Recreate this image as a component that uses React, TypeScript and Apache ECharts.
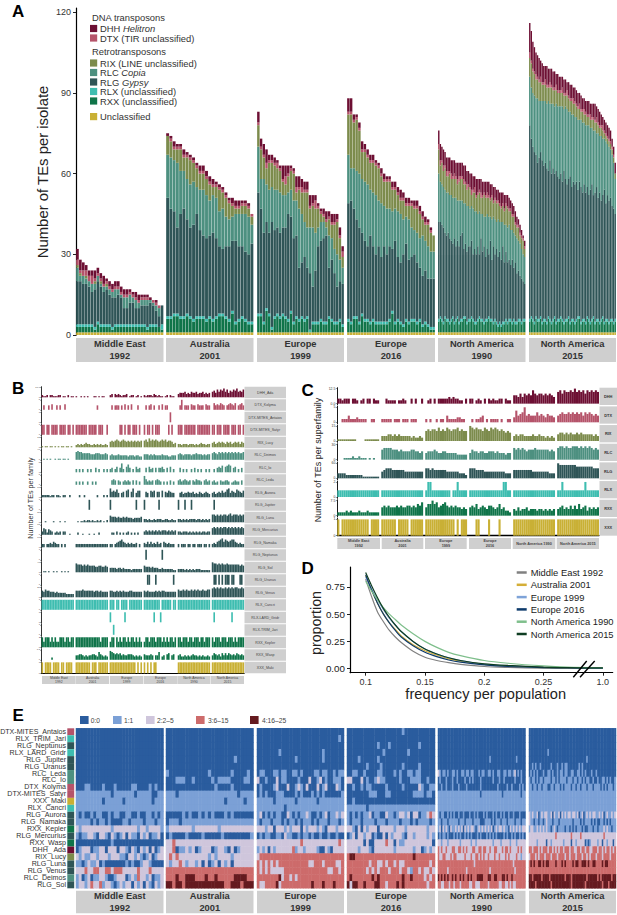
import React, { useEffect, useRef } from "react";
import * as echarts from "echarts";

const FONT = "'Liberation Sans', Arial, sans-serif";
const C_DHH = "#6d0f33", C_DTX = "#b5536a", C_RIX = "#7c8b4c", C_RLC = "#4d9080", C_RLG = "#2f5557", C_RLX = "#3ebdb0", C_RXX = "#0f7449", C_UNC = "#c9b035";
const STRIP = "#cfcfcf";

const FACET_NAMES = ["Middle East", "Australia", "Europe", "Europe", "North America", "North America"];
const FACET_YEARS = ["1992", "2001", "1999", "2016", "1990", "2015"];

// ---- Panel A: TEs per isolate, one array per superfamily and population
const ME_UNC = [1,1,1,1,1,1,1,1,1,1,1,1,1,1,1,1,1,1,1,1,1,1,1,1,1,1,1,1,1,1];
const ME_RXX = [2,2,2,2,2,2,1,3,2,2,2,2,1,2,2,2,2,2,2,2,2,2,2,2,1,2,2,2,2,1];
const ME_RLX = [1,1,1,1,1,1,1,1,1,1,1,1,1,1,1,1,1,1,1,1,1,1,1,1,1,1,1,1,0,2];
const ME_RLG = [16,16,15,15,14,12,14,15,14,12,13,11,11,10,11,10,6,6,8,8,6,6,7,7,8,8,7,5,4,7];
const ME_RLC = [5,2,3,2,2,3,2,2,1,2,1,2,2,3,2,1,4,4,3,2,3,2,2,2,2,1,1,2,3,0];
const ME_RIX = [1,1,0,1,0,0,1,0,1,0,1,0,0,0,0,0,0,0,0,0,0,0,0,0,0,0,0,0,0,0];
const ME_DTX = [2,1,2,2,2,3,1,1,1,1,1,1,1,1,1,1,1,1,1,1,1,1,1,1,1,0,1,1,1,0];
const ME_DHH = [4,4,3,2,2,2,3,2,2,3,1,2,2,2,2,2,2,2,1,1,2,2,1,1,1,1,0,1,0,0];

const AU_UNC = [1,1,1,1,1,1,1,1,1,1,1,1,1,1,1,1,1,1,1,1,1,1,1,1,1,1,1];
const AU_RXX = [5,5,6,6,5,5,6,5,4,5,5,5,4,5,4,5,6,6,5,4,7,3,4,5,4,3,3];
const AU_RLX = [1,1,1,1,1,1,1,1,1,1,1,1,1,1,1,1,1,1,1,1,1,1,1,1,1,1,1];
const AU_RLG = [44,40,38,32,38,40,35,33,35,38,32,30,30,30,32,29,25,24,26,27,26,30,27,26,25,25,29];
const AU_RLC = [16,19,19,24,16,14,15,16,16,10,15,17,16,13,14,15,13,15,11,10,9,10,12,12,14,14,7];
const AU_RIX = [7,6,4,5,8,5,8,9,7,7,6,6,6,6,3,4,8,6,7,6,4,2,2,3,3,3,3];
const AU_DTX = [0,1,1,1,1,1,1,1,1,1,1,1,1,1,1,1,1,1,1,1,1,1,1,1,1,1,1];
const AU_DHH = [1,1,2,1,1,2,1,1,1,1,2,2,2,2,2,1,1,1,1,1,2,2,2,1,1,1,0];

const E9_UNC = [1,1,1,1,1,1,1,1,1,1,1,1,1,1,1,1,1,1,1,1,1,1,1,1,1,1,1,1,1,1,1,1];
const E9_RXX = [6,6,3,8,6,1,5,6,5,6,5,4,7,3,5,4,5,4,5,0,3,3,3,4,3,3,5,4,3,3,4,2];
const E9_RLX = [1,1,1,1,1,1,1,1,1,1,1,1,1,1,1,1,1,1,1,1,1,1,1,1,1,1,1,1,1,1,1,1];
const E9_RLG = [45,39,33,32,30,39,32,32,31,32,33,39,35,31,30,19,20,23,18,21,13,19,28,29,31,32,18,22,18,13,14,15];
const E9_RLC = [17,11,20,14,16,13,15,14,15,12,12,8,10,14,13,22,18,13,15,17,22,14,7,7,6,3,12,8,9,12,8,6];
const E9_RIX = [8,11,8,6,10,9,9,8,8,5,4,6,7,10,3,7,8,11,13,7,8,9,7,3,2,2,6,5,9,12,8,4];
const E9_DTX = [1,1,1,2,1,1,1,2,1,1,3,1,1,1,2,1,2,1,1,1,1,3,1,1,1,1,1,1,1,1,1,2];
const E9_DHH = [4,3,4,5,2,2,2,1,1,5,4,3,1,1,4,4,3,3,3,4,3,2,1,1,2,3,2,3,3,2,3,2];

const E6_UNC = [1,1,1,1,1,1,1,1,1,1,1,1,1,1,1,1,1,1,1,1,1,1,1,1,1,1,1,1,1,1,1,1];
const E6_RXX = [4,3,5,5,3,6,4,4,3,4,3,3,3,3,3,4,7,3,4,3,2,4,3,4,4,3,4,2,3,2,1,1];
const E6_RLX = [1,1,1,1,1,1,1,1,1,1,1,1,1,1,1,1,1,1,1,1,1,1,1,1,1,1,1,1,1,1,1,1];
const E6_RLG = [43,45,40,36,35,30,29,27,32,27,25,28,24,28,25,27,23,30,23,22,26,28,23,23,24,22,19,18,19,17,18,18];
const E6_RLC = [18,12,15,18,20,20,22,23,17,20,22,17,20,15,17,14,14,12,17,18,13,10,15,11,9,11,11,15,11,12,10,10];
const E6_RIX = [15,20,17,19,16,10,11,10,10,11,11,12,10,9,10,10,8,7,6,5,7,4,5,8,8,9,9,6,6,8,7,6];
const E6_DTX = [1,1,1,1,1,1,1,1,1,1,1,1,1,1,1,1,1,1,1,1,1,1,1,1,1,1,1,1,1,1,1,0];
const E6_DHH = [5,5,2,1,2,3,2,2,2,2,1,1,2,2,1,1,2,2,2,3,2,2,2,1,2,2,2,2,2,1,1,0];

const N9_UNC = [1,1,1,1,1,1,1,1,1,1,1,1,1,1,1,1,1,1,1,1,1,1,1,1,1,1,1,1,1,1,1,1,1,1,1,1,1,1,1,1,1,1,1,1,1,1,1,1,1,1,1,1,1,1,1,1];
const N9_RXX = [4,5,4,3,5,4,4,3,4,5,3,4,5,3,4,4,5,5,3,4,4,5,4,3,3,4,5,4,4,3,4,4,5,4,4,3,4,3,2,3,2,3,3,4,3,4,4,3,4,3,3,4,4,3,4,4];
const N9_RLX = [1,1,1,1,1,1,1,1,1,1,1,1,1,1,1,1,1,1,1,1,1,1,1,1,1,1,1,1,1,1,1,1,1,1,1,1,1,1,1,1,1,1,1,1,1,1,1,1,1,1,1,1,1,1,1,1];
const N9_RLG = [36,35,35,35,31,31,32,31,29,27,31,27,28,28,31,32,25,27,26,27,27,28,24,27,25,27,23,30,25,28,23,26,23,29,22,28,24,27,25,26,24,28,22,25,22,22,20,23,19,22,18,18,16,16,14,13];
const N9_RLC = [18,15,15,15,16,16,15,16,17,17,15,18,15,17,13,12,17,15,17,15,14,13,17,14,16,12,16,9,14,11,15,13,14,9,15,11,13,10,14,11,14,9,14,10,13,13,13,11,13,10,13,11,12,11,10,10];
const N9_RIX = [9,6,8,6,8,6,6,8,6,7,7,7,6,7,8,8,7,7,6,7,7,4,6,7,5,7,7,6,6,8,7,6,7,6,8,5,7,7,6,6,5,6,5,7,7,5,7,5,6,4,4,5,3,4,5,3];
const N9_DTX = [2,2,1,2,1,2,2,1,2,1,2,1,2,2,1,1,2,1,2,1,1,2,1,2,1,1,1,2,1,1,1,2,1,1,1,1,1,1,1,1,1,1,1,1,1,1,1,1,1,1,1,1,1,1,1,1];
const N9_DHH = [5,6,5,6,5,5,5,5,5,6,5,5,6,5,5,5,5,6,5,5,5,6,5,4,6,5,4,5,5,4,5,4,5,5,4,5,4,4,4,4,5,4,5,3,4,4,3,4,3,4,3,2,3,2,1,2];

const N5_UNC = [1,1,1,1,1,1,1,1,1,1,1,1,1,1,1,1,1,1,1,1,1,1,1,1,1,1,1,1,1,1,1,1,1,1,1,1,1,1,1,1,1,1,1,1,1,1,1,1,1,1,1,1,1,1,1,1];
const N5_RXX = [4,5,4,3,5,4,4,5,3,4,4,3,5,4,3,4,5,3,4,4,5,4,3,4,4,5,3,4,4,3,4,5,5,3,4,4,3,5,4,3,4,5,3,4,4,3,4,5,3,4,4,3,4,4,3,4];
const N5_RLX = [1,1,1,1,1,1,1,1,1,1,1,1,1,1,1,1,1,1,1,1,1,1,1,1,1,1,1,1,1,1,1,1,1,1,1,1,1,1,1,1,1,1,1,1,1,1,1,1,1,1,1,1,1,1,1,1];
const N5_RLG = [72,66,64,63,60,58,60,61,60,57,58,57,54,59,55,56,53,56,53,52,53,51,56,52,50,51,54,49,51,51,51,47,50,50,47,50,48,48,46,49,50,45,48,49,45,48,44,45,49,43,46,45,45,42,42,39];
const N5_RLC = [18,19,20,21,21,24,21,19,22,24,23,24,26,21,26,24,25,25,26,27,25,28,23,27,28,25,24,27,25,25,24,26,23,25,26,23,25,23,26,23,21,24,23,20,24,21,24,21,19,23,19,20,18,19,17,13];
const N5_RIX = [7,9,8,8,7,7,7,7,6,6,6,6,5,6,6,5,6,5,5,5,5,5,5,4,5,5,4,5,4,5,4,4,4,3,4,3,4,3,3,3,3,4,3,4,3,3,3,3,2,2,2,2,2,2,2,2];
const N5_DTX = [2,1,1,1,2,1,1,2,1,1,2,1,1,2,1,1,1,2,1,1,1,2,1,1,2,1,1,1,2,1,1,1,2,1,1,2,1,1,1,2,1,1,1,2,1,1,1,2,1,1,1,1,1,1,1,0];
const N5_DHH = [11,11,10,9,8,8,8,6,7,6,5,7,6,5,6,6,6,4,6,5,5,4,5,5,3,5,5,5,4,5,5,5,4,5,4,4,4,5,5,4,5,5,6,4,5,5,4,3,4,4,4,4,4,3,3,4];

const A_LAYER_NAMES = ["Unclassified", "RXX", "RLX", "RLG", "RLC", "RIX", "DTX", "DHH"];
const A_LAYER_COLORS = [C_UNC, C_RXX, C_RLX, C_RLG, C_RLC, C_RIX, C_DTX, C_DHH];
const A_TABLE = [
  [ME_UNC, ME_RXX, ME_RLX, ME_RLG, ME_RLC, ME_RIX, ME_DTX, ME_DHH],
  [AU_UNC, AU_RXX, AU_RLX, AU_RLG, AU_RLC, AU_RIX, AU_DTX, AU_DHH],
  [E9_UNC, E9_RXX, E9_RLX, E9_RLG, E9_RLC, E9_RIX, E9_DTX, E9_DHH],
  [E6_UNC, E6_RXX, E6_RLX, E6_RLG, E6_RLC, E6_RIX, E6_DTX, E6_DHH],
  [N9_UNC, N9_RXX, N9_RLX, N9_RLG, N9_RLC, N9_RIX, N9_DTX, N9_DHH],
  [N5_UNC, N5_RXX, N5_RLX, N5_RLG, N5_RLC, N5_RIX, N5_DTX, N5_DHH],
];
const A_TICKS = [0, 30, 60, 90, 120];

// ---- Panel B: family rows; each string holds 6 populations, digit = height in ninths of the row's top value
const B_FAMILIES = ["DHH_Ada","DTX_Kolyma","DTX-MITES_Antaios","DTX-MITES_Satyr","RIX_Lucy","RLC_Deimos","RLC_Io","RLC_Leda","RLG_Aurora","RLG_Jupiter","RLG_Luna","RLG_Mercurius","RLG_Namaka","RLG_Neptunus","RLG_Sol","RLG_Uranus","RLG_Venus","RLX_Cancri","RLX-LARD_Gridr","RLX-TRIM_Jari","RXX_Kepler","RXX_Wasp","XXX_Maki"];
const B_COLORS = [C_DHH,C_DTX,C_DTX,C_DTX,C_RIX,C_RLC,C_RLC,C_RLC,C_RLG,C_RLG,C_RLG,C_RLG,C_RLG,C_RLG,C_RLG,C_RLG,C_RLG,C_RLX,C_RLX,C_RLX,C_RXX,C_RXX,C_UNC];
const B_TOPS = ["10.0","5","1","1","15","40","5","5","10","1","20","15","10","1","40","1","20","1","1","1","2","7.5","1"];
const B_ROWS = [
"21120221112201102011 10010101000110101100 23032321223012201201 21222132121101202110 34445343544534453434 56475768574657685657",
"04004050040400500000 00000000000004000000 04044404050405000400 04045040040504400000 04904440544054440544 06454654045654604564",
"00000000000000000000 00000000000000000000 00000000000000000000 00000000000000009000 00000000000000000000 00000000000000000000",
"99099099990999909909 99999990999990999009 00000099090990999090 90990909990000090900 99909999999099999999 99099909999099909909",
"10110110101011011010 23232343322323232232 56567656765656565656 67586767656767566534 33233323332323433233 45345454354534545354",
"01010100101101101000 78776666655566655565 45444544444344434433 55545454444544433444 56545555455655545455 67657676767676767667",
"00000000000000000000 30303003030040300303 34035048305740305340 04053404044530405030 04030300304030300303 03045460567604503040",
"00000000000000000000 30303003003030000000 04540430343430404030 85343404543030304030 45345434043544304534 34230433443023433040",
"22222122022102200200 00200200000002000202 85657404506705804660 05406560550605465440 04534454453435434543 45345464578465476546",
"00000000000000000000 00000000900000000000 90000000000000009000 90000000090000000000 90009000900000000000 09000000000000000000",
"00100001000100100000 01011212212112120102 65554544545444344445 33232232333223322322 33232323333233232323 77676767767867776767",
"36525430232303300100 02001000100100200000 02203020202302020200 34343434343444343434 33233323232323233233 67676767767676767676",
"33033435433030300000 33333333333333333333 33034567543434334030 43535343534054343330 30333033033033303303 34356785765677543433",
"00000000000000000000 00000000000000000000 00000000000000000000 09000000000900000000 00000000000000000000 00000000000000000000",
"01101001010010101000 87776767666655665565 44443443433332333333 65554544433433333322 33332323232333222222 98878787787777777676",
"00000000000000000000 00000000000000000000 00000000000000000000 00990009000000000090 00000000000000000000 09909090999099000990",
"65766555454444433333 66667666666566565555 66556565655566555555 65655556565665555555 76676766767676676677 89898988989898998898",
"99999999999999999999 99999999999999999999 99909909999099999999 99999999990999999099 99999999999999999999 99999999999999999999",
"00000000000000000000 00000000000000000000 90000000090000000000 00000090009000000000 00000000000000000000 09000000000090000000",
"00000000000000000000 00000000000000000000 00900000000000000000 00000000000000000000 00000000000000000000 00000000000000000000",
"95999595955999599599 99999999999999959999 59909595995959959595 59959995999595959959 99599959959995995999 95999599959995959999",
"00000020000000000000 44554343445543754343 87656564544555434343 54445404470340560450 45334343454434343343 46545364646545465454",
"90999909999099099990 99999999909990999999 99999999999999990909 90909099000000000000 99999999999999999999 99999999999999999999",
];

// ---- Panel C: superfamily rows, same coding
const C_NAMES = ["DHH", "DTX", "RIX", "RLC", "RLG", "RLX", "RXX", "XXX"];
const C_COLORS = [C_DHH, C_DTX, C_RIX, C_RLC, C_RLG, C_RLX, C_RXX, C_UNC];
const C_TOPS = ["12.5", "5", "15", "30", "60", "2", "7.5", "1"];
const C_ZEROS = ["0.0", "0", "0", "0", "0", "0", "0", "0"];
const C_ROWS = [
"33233303320230330322 00322220223200303003 02303033333434332203 33023203032322330322 55464656586566565654 78687787978786878787",
"00222422232222002200 22222022202220222000 20200202204222233220 02022340202222020022 37456945444645435443 45655656565646565454",
"11111111100001111111 33344343433333232232 67677686768767786766 98787768768787676565 34344333343343323232 45545454454544444343",
"00011112112111010100 67777666565555665545 45556544554444433333 46554554455545444344 76767656667666666565 78878778887878787676",
"33332222222211111111 45666555555444444444 66565555554444443332 66655554444444444333 55555555544444444333 98888888877777777666",
"44444444444444444444 44444444444444444444 49944444444404494444 44444444444444449944 44444444444444444444 44944444444449444444",
"22223232223222322222 56565556565566565768 57797856786565655454 56574565466545745332 43534453444344343434 45645464647456354545",
"90999999999999909999 99999990999990999999 99999999999999090999 00099000090000900000 99999999999999999999 99999999999999999999",
];

// ---- Panel D: proportion of TEs above a frequency; the axis is broken, 0.30 on the scale stands for frequency 1.0
const D_FREQ = [0.1,0.105,0.11,0.115,0.12,0.125,0.13,0.14,0.15,0.16,0.17,0.18,0.2,0.22,0.25,0.27,0.3];
const D_ME92 = [.82,.66,.52,.43,.35,.29,.24,.16,.105,.075,.055,.04,.02,.012,.005,.004,.003];
const D_AU01 = [.85,.72,.60,.50,.42,.36,.30,.22,.165,.125,.09,.07,.04,.025,.012,.008,.006];
const D_EU99 = [.84,.73,.63,.54,.46,.40,.34,.25,.18,.135,.10,.075,.04,.026,.013,.009,.006];
const D_EU16 = [.86,.72,.60,.50,.42,.35,.29,.21,.15,.11,.08,.06,.035,.02,.01,.007,.005];
const D_NA90 = [.80,.71,.63,.56,.50,.45,.40,.32,.25,.195,.15,.12,.075,.05,.025,.015,.01];
const D_NA15 = [.88,.76,.65,.55,.47,.40,.34,.25,.18,.135,.10,.075,.045,.03,.015,.01,.007];
const D_NAMES = ["Middle East 1992", "Australia 2001", "Europe 1999", "Europe 2016", "North America 1990", "North America 2015"];
const D_COLORS = ["#808080", "#d4ae37", "#7ea3d8", "#0d3a6b", "#7fbf8c", "#0e3d22"];
const D_XTICKS = [0.1, 0.15, 0.2, 0.25, 0.3];
const D_XLABELS = ["0.1", "0.15", "0.2", "0.25", "1.0"];
const D_YTICKS = [0, 0.25, 0.5, 0.75];

// ---- Panel E: copy-number class per family and isolate
const E_FAMILIES = ["DTX-MITES_Antaios","RLX_TRIM_Jari","RLG_Neptunus","RLX_LARD_Gridr","RLG_Jupiter","RLG_Uranus","RLC_Leda","RLC_Io","DTX_Kolyma","DTX-MITES_Satyr","XXX_Maki","RLX_Cancri","RLG_Aurora","RLG_Namaka","RXX_Kepler","RLG_Mercurius","RXX_Wasp","DHH_ Ada","RIX_Lucy","RLG_Luna","RLG_Venus","RLC_Deimos","RLG_Sol"];
const E_SWATCH = [C_DTX,C_RLX,C_RLG,C_RLX,C_RLG,C_RLG,C_RLC,C_RLC,C_DTX,C_DTX,C_UNC,C_RLX,C_RLG,C_RLG,C_RXX,C_RLG,C_RXX,C_DHH,C_RIX,C_RLG,C_RLG,C_RLC,C_RLG];
const E_CLASSES = ["0:0", "1:1", "2:2–5", "3:6–15", "4:16–25"];
const E_CLASS_COLORS = ["#2a5c9e", "#7ba0d6", "#cfc6dc", "#cd6b6b", "#651a1f"];
const E_ME = [
"000000000000000000000000000000","000000000000000000000000000000","000000000000000000000000000000","000000000000000000000000000000","000000000000000000000000000000","000000000000000000000000000000","000000000000000000000000000000","000000000000000000000000000000",
"000110000100010000011000010100","111111111111011111110111110011","111111111011111101111111110111","111111111111111111111111111111","101001011001011001100100110101","111110101101000011011110111011","212222222222122222222122122221","101122102210210120211021201120","000000000000100000000000000000","012220112202220221021021202012","212112212221222110221210120122","110121120100000001010012210000","222322332233233322222322232222","120120112210012220121322120112","122123223122101212202120210212",
];
const E_AU = [
"000000000000000000000000000","000000000000000000000000000","000000000000000000000000000","000000000000000000000000000","000000000000000000000100000","000000000000000000000000000","100000000000010000001000010","000111001000001011110000110",
"000000000000000100001000000","111011111111111111111101111","111111111111111111011111011","111111111111111111111111111","000001010010101000101000000","011101111111111111111111111","122222221222222212222222222","010000100001000001000000001","223222222222222222222222222","223011212012220122102012222","232322222222212122221222222","212232122120201202120222222","333333333333333333333333333","333433444333433433333444433","443443444444444444334443444",
];
const E_E9 = [
"00000000000000000000000000000000","00000000000000000000000000000010","00000000000000000000000000000000","00000000100000000000000010000000","00000000000000100000000010000000","00000000000000000000000000000000","01100011011001101000011011001011","20010002011000010002001201001110",
"01000012000200121020002012000210","01010001110000101000101010000001","11111101111111011111110111111111","11111111110111111111111111111111","12010101100210101121001012011212","10111011101011010111010111011101","22212202221212220212221210222122","01011001102110010110100100100100","22222222222222223222222222222232","12120212222223122122221002102222","23333333333333333333333333333333","32323232333333333332233323333223","32323222223333333333333333223323","33333333423323233333333333333333","32233334233333333333433343334333",
];
const E_E6 = [
"00000000000000000000100000000000","00000000000000000000000000000000","00000000000100010000000000100000","00000000000001000000001000000000","00001000000100000000000000000000","00000001000010000000100000100000","00110010000110000101001101100000","22000201001211000001000111100100",
"00100101100000100000100000210011","00000000111000110000000011110110","00100000000000000000000000000000","11111110111111111111111111111111","10101011201100211012212022011232","10111011110111011110111010111101","22102021222022222122212222222122","01202212201002021222102212222121","22222202002222322021122222222220","22221222102222222122222212201212","34433333333333333333333343333333","33333333233223233232233333333323","33333332323233323332332133232232","34333333343433333333433433332323","42443343334433233343433333333233",
];
const E_N9 = [
"00000000000000000000000000000000000000000000000000000000","00000000000000000000000000000000000000000000000000000000","00000000000000000000000000000000000000000000000000000000","00000000000000000000000000000000000000000000000000000000","00000000000000000000000000000000010000000000000000100000","00000000000000000000000000000000000000000000000000000000","21011010011010011011011000101100110100110011011012010100","01000100010010000100101000010000000100010010000001000100",
"00100100010001000010000000010000000000100000100100001010","11111111111111111111111111101111111111111011111111111011","11111111111111111111111111111111111111111111111111111111","11111111111111111111111111111111111111111111111111111111","10110010101001001000100101000101000101001010010010001000","11011101111110111011110111100011110101110111011110111011","12021210211212120212122101212121212012122121102121212122","01011010001010100101010001010001010101000010100101001010","22122212222222122222212212222222222122221222221222122222","32322322233223323232223322332332232233222323323222232322","32233222323322222322232233232322322232232223232222322122","33333333333333333333333233333333333333333333333323333333","33333323333333333323333333333333323333333333333332333333","43434343343433434334343334444333443344333443433433333333","33223332332333233333223322233333233333322332232322333333",
];
const E_N5 = [
"00000000000000000000000000000000000000000000000000000000","00000000000000000000000000000000000000000000000000000000","00000000000000000000000000000000000000000000000000000000","00000000000010000000000000000000000000000000000000000000","00000000000000000000000000000000000001000000000000000000","00101001000000100010010110000000101000000000000000000000","01010100010011010010110110011001101010001001000000000000","10110101101111011010111101110110110101100100100110101001",
"11011011011100110111010111101101101110111011110101011101","11111111111111111111111111111111111111111111111111111111","11111111111111111111111111111111111111111111111111111111","11111111111111111111111111111111111111111111111111111111","21211201212211202112021212212212012012121221121201211212","21101101101211101110111111110111101011110101001101010111","12211212121211012101111011010101110100111011011121211011","22222222222222222322222222232222232222222222222232222222","22222122222022122222221222202212222201012222122022122202","33233323233323323232332333233223323323322333233232332323","23332323332333233323333233233323332332323332333233332333","34343344343443333433343433334344334443433443333434433333","33333333333333333333333333333333333333333333333333333333","44344444344443444444444344434444444443444444343444444344","44443444444444344444444444434444444434444444444344434444",
];
const E_TABLE = [E_ME, E_AU, E_E9, E_E6, E_N9, E_N5];

// ---- Layout
const FX = [[76, 87.5], [166, 87.5], [257, 87], [347, 88], [438, 87.5], [529, 87]];
const BX = [[42, 33.7], [76, 33.2], [110, 33.2], [143.7, 33.3], [177.3, 33.2], [211, 33]];
const CX = [[337.3, 42.7], [381.7, 41.6], [425, 41.7], [469, 42], [512.7, 42.6], [556.7, 42.3]];

function rect(x: number, y: number, w: number, h: number, fill: string) {
  return { type: "rect", z: 100, shape: { x, y, width: w, height: h }, style: { fill }, silent: true };
}
function txt(x: number, y: number, text: string, size: number, o: any = {}) {
  return {
    type: "text", z: 101, x, y, rotation: o.rotation || 0, silent: true,
    style: {
      text, fontSize: size, fontFamily: FONT, fontWeight: o.bold ? "bold" : "normal", fill: o.fill || "#333",
      align: o.align || "left", verticalAlign: "middle", lineHeight: o.lh, rich: o.rich,
    },
  };
}
function line(x1: number, y1: number, x2: number, y2: number, w: number) {
  return { type: "line", z: 102, shape: { x1, y1, x2, y2 }, style: { stroke: "#000", lineWidth: w }, silent: true };
}

function decode(row: string, max: number) {
  const out: (number | null)[] = [];
  row.split(" ").forEach((part, i) => {
    if (i > 0) out.push(null);
    for (const ch of part) {
      const d = Number(ch);
      out.push(d === 0 ? null : (d * max) / 9);
    }
  });
  return out;
}

function buildOption() {
  const grid: any[] = [], xAxis: any[] = [], yAxis: any[] = [], series: any[] = [], elements: any[] = [];
  const addGrid = (left: number, top: number, width: number, height: number) => {
    grid.push({ left, top, width, height, containLabel: false, show: false });
    return grid.length - 1;
  };

  // Panel letters
  elements.push(txt(12, 11, "A", 17, { bold: true, fill: "#000" }));
  elements.push(txt(12, 388, "B", 17, { bold: true, fill: "#000" }));
  elements.push(txt(301.5, 390, "C", 17, { bold: true, fill: "#000" }));
  elements.push(txt(301.5, 568, "D", 17, { bold: true, fill: "#000" }));
  elements.push(txt(12.5, 715, "E", 17, { bold: true, fill: "#000" }));

  // Panel A
  const A_MAX = 327 / 2.69;
  A_TABLE.forEach((layers, f) => {
    const g = addGrid(FX[f][0], 8, FX[f][1], 327);
    xAxis.push({ gridIndex: g, type: "category", show: false, data: layers[0].map((_, i) => i) });
    yAxis.push({
      gridIndex: g, type: "value", min: 0, max: A_MAX, show: f === 0, splitLine: { show: false },
      axisLine: { show: true, lineStyle: { color: "#000", width: 1.2 } },
      axisTick: { show: true, length: 3, customValues: A_TICKS, lineStyle: { color: "#222" } },
      axisLabel: { customValues: A_TICKS, fontSize: 9, color: "#333", margin: 5, fontFamily: FONT },
    });
    layers.forEach((vals, l) => {
      series.push({
        type: "bar", name: A_LAYER_NAMES[l], xAxisIndex: g, yAxisIndex: g, stack: "a" + f, data: vals,
        barCategoryGap: "10%", itemStyle: { color: A_LAYER_COLORS[l] },
      });
    });
    elements.push(rect(FX[f][0], 338, FX[f][1], 24, STRIP));
    elements.push(txt(FX[f][0] + FX[f][1] / 2, 350, FACET_NAMES[f] + "\n" + FACET_YEARS[f], 9.3, { bold: true, align: "center", lh: 11.5 }));
    elements.push(rect(FX[f][0], 890.7, FX[f][1], 22.5, STRIP));
    elements.push(txt(FX[f][0] + FX[f][1] / 2, 902, FACET_NAMES[f] + "\n" + FACET_YEARS[f], 9.3, { bold: true, align: "center", lh: 11.5 }));
  });
  elements.push(txt(43, 172, "Number of TEs per isolate", 14.9, { rotation: Math.PI / 2, align: "center", fill: "#222" }));
  // Panel A legend
  const italic = { i: { fontStyle: "italic", fontSize: 9.4, fontFamily: FONT, fill: "#333" } };
  elements.push(txt(92, 17.5, "DNA transposons", 9.4));
  elements.push(txt(92, 51, "Retrotransposons", 9.4));
  const legendA: [string, string, number][] = [
    ["DHH {i|Helitron}", C_DHH, 28.5], ["DTX (TIR unclassified)", C_DTX, 38], ["RIX (LINE unclassified)", C_RIX, 63],
    ["RLC {i|Copia}", C_RLC, 72.5], ["RLG {i|Gypsy}", C_RLG, 82], ["RLX (unclassified)", C_RLX, 91.5], ["RXX (unclassified)", C_RXX, 101], ["Unclassified", C_UNC, 116.6],
  ];
  legendA.forEach(([t, c, y]) => {
    elements.push(rect(90, y - 3.6, 7.2, 7.2, c));
    elements.push(txt(100, y, t, 9.4, { rich: italic }));
  });

  // Panel B
  B_ROWS.forEach((row, r) => {
    const top = 386.7 + r * 12.5, h = 11.6, max = parseFloat(B_TOPS[r]);
    const vals = decode(row, max);
    const g = addGrid(41.5, top, 202.7, h);
    const last = r === B_ROWS.length - 1;
    xAxis.push({
      gridIndex: g, type: "category", data: vals.map((_, i) => i), axisLine: { show: last, onZero: false, lineStyle: { color: "#000", width: 1.2 } },
      axisTick: { show: false }, axisLabel: { show: false },
    });
    yAxis.push({
      gridIndex: g, type: "value", min: last ? 0 : -0.1 * max, max: 1.06 * max, splitLine: { show: false },
      axisLine: { show: true, lineStyle: { color: "#000", width: 0.8 } },
      axisTick: { show: true, length: 1.2, customValues: [0, max], lineStyle: { color: "#333", width: 0.5 } },
      axisLabel: { customValues: [0, max], fontSize: 2.4, color: "#444", margin: 1.5, fontFamily: FONT, formatter: (v: number) => (v === 0 ? "0" : B_TOPS[r]) },
    });
    series.push({ type: "bar", name: B_FAMILIES[r], xAxisIndex: g, yAxisIndex: g, data: vals, barCategoryGap: "0%", itemStyle: { color: B_COLORS[r] } });
    elements.push(rect(244.5, top, 41.5, h, STRIP));
    elements.push(txt(265.2, top + h / 2, B_FAMILIES[r], 3.6, { align: "center", fill: "#444" }));
  });
  BX.forEach(([x, w], f) => {
    elements.push(rect(x, 676, w, 8, STRIP));
    elements.push(txt(x + w / 2, 680, FACET_NAMES[f] + "\n" + FACET_YEARS[f], 3.4, { align: "center", lh: 3.9, fill: "#444" }));
  });
  elements.push(txt(30.6, 498, "Number of TEs per family", 7.2, { rotation: Math.PI / 2, align: "center" }));

  // Panel C
  C_ROWS.forEach((row, r) => {
    const top = 387.7 + r * 18.67, h = 17.3, max = parseFloat(C_TOPS[r]);
    const vals = decode(row, max);
    const g = addGrid(337.3, top, 261.7, h);
    const last = r === C_ROWS.length - 1;
    xAxis.push({
      gridIndex: g, type: "category", data: vals.map((_, i) => i), axisLine: { show: last, onZero: false, lineStyle: { color: "#000", width: 1.3 } },
      axisTick: { show: false }, axisLabel: { show: false },
    });
    yAxis.push({
      gridIndex: g, type: "value", min: last ? 0 : -0.09 * max, max: 1.06 * max, splitLine: { show: false },
      axisLine: { show: true, lineStyle: { color: "#000", width: 0.9 } },
      axisTick: { show: true, length: 1.5, customValues: [0, max], lineStyle: { color: "#333", width: 0.5 } },
      axisLabel: { customValues: [0, max], fontSize: 3.4, color: "#333", margin: 2, fontFamily: FONT, formatter: (v: number) => (v === 0 ? C_ZEROS[r] : C_TOPS[r]) },
    });
    series.push({ type: "bar", name: "C " + C_NAMES[r], xAxisIndex: g, yAxisIndex: g, data: vals, barCategoryGap: "0%", itemStyle: { color: C_COLORS[r] } });
    elements.push(rect(599.5, top, 17.5, h, STRIP));
    elements.push(txt(608.2, top + h / 2, C_NAMES[r], 3.9, { align: "center", bold: true, fill: "#333" }));
  });
  CX.forEach(([x, w], f) => {
    elements.push(rect(x, 538, w, 11, STRIP));
    elements.push(txt(x + w / 2, 543.5, FACET_NAMES[f] + (f === 4 || f === 5 ? " " + FACET_YEARS[f] : "\n" + FACET_YEARS[f]), 3.8, { align: "center", bold: true, lh: 4.6, fill: "#444" }));
  });
  elements.push(txt(317.5, 460, "Number of TEs per superfamily", 9, { rotation: Math.PI / 2, align: "center", fill: "#222" }));

  // Panel D
  const gD = addGrid(350, 567, 262.7, 105.7);
  xAxis.push({
    gridIndex: gD, type: "value", min: 0.0868, max: 0.3083, splitLine: { show: false },
    axisLine: { show: true, onZero: false, lineStyle: { color: "#000", width: 1.2 } },
    axisTick: { show: true, length: 3, customValues: D_XTICKS, lineStyle: { color: "#222" } },
    axisLabel: {
      customValues: D_XTICKS, fontSize: 9, color: "#333", margin: 5, fontFamily: FONT,
      formatter: (v: number) => D_XLABELS[D_XTICKS.findIndex((t) => Math.abs(t - v) < 1e-6)],
    },
  });
  yAxis.push({
    gridIndex: gD, type: "value", min: -0.0366, max: 0.931, splitLine: { show: false },
    axisLine: { show: true, onZero: false, lineStyle: { color: "#000", width: 1.2 } },
    axisTick: { show: true, length: 3, customValues: D_YTICKS, lineStyle: { color: "#222" } },
    axisLabel: { customValues: D_YTICKS, fontSize: 9.8, color: "#222", margin: 5, fontFamily: FONT, formatter: (v: number) => v.toFixed(2) },
  });
  [D_ME92, D_AU01, D_EU99, D_EU16, D_NA90, D_NA15].forEach((vals, i) => {
    series.push({
      type: "line", name: D_NAMES[i], xAxisIndex: gD, yAxisIndex: gD, smooth: 0.3, showSymbol: false, symbol: "none",
      data: vals.map((v, k) => [D_FREQ[k], v]), lineStyle: { color: D_COLORS[i], width: 1.2 }, itemStyle: { color: D_COLORS[i] },
    });
  });
  elements.push(txt(316, 623, "proportion", 14.2, { rotation: Math.PI / 2, align: "center", fill: "#222" }));
  elements.push(txt(485.7, 693.5, "frequency per population", 14.6, { align: "center", fill: "#222" }));
  elements.push(line(573.3, 677.3, 586.7, 661, 1.4));
  elements.push(line(580, 677.3, 594.7, 661, 1.4));

  // Panel E
  const heatSeries: number[] = [];
  E_TABLE.forEach((rows, f) => {
    const n = rows[0].length;
    const g = addGrid(FX[f][0], 728.3, FX[f][1], 160);
    const cols: number[] = [];
    for (let c = 0; c < n; c++) cols.push(c);
    xAxis.push({ gridIndex: g, type: "category", data: cols, show: false });
    yAxis.push({
      gridIndex: g, type: "category", inverse: true, data: E_FAMILIES, show: false,
      axisLine: { show: false }, axisTick: { show: false }, splitLine: { show: false },
    });
    const data: number[][] = [];
    rows.forEach((s, r) => { for (let c = 0; c < n && c < s.length; c++) data.push([c, r, Number(s[c])]); });
    heatSeries.push(series.length);
    series.push({ type: "heatmap", name: "E" + f, xAxisIndex: g, yAxisIndex: g, data, progressive: 0, itemStyle: { borderWidth: 0 } });
  });
  E_SWATCH.forEach((c, r) => {
    elements.push(rect(67.3, 728.3 + (r * 160) / 23, 6.9, 160 / 23, c));
    elements.push(txt(66, 728.3 + ((r + 0.5) * 160) / 23, E_FAMILIES[r], 7.1, { align: "right" }));
  });
  const legX = [[80, 90.7], [113, 124], [146, 157], [196, 208], [250, 262]];
  E_CLASSES.forEach((t, i) => {
    elements.push(rect(legX[i][0], 716, 8.6, 8, E_CLASS_COLORS[i]));
    elements.push(txt(legX[i][1], 720, t, 6.7, { fill: "#444" }));
  });

  return {
    animation: false,
    backgroundColor: "#fff",
    textStyle: { fontFamily: FONT },
    grid, xAxis, yAxis, series,
    graphic: { elements },
    visualMap: {
      type: "piecewise", show: false, dimension: 2, seriesIndex: heatSeries,
      pieces: E_CLASS_COLORS.map((color, value) => ({ value, color })),
    },
    legend: {
      data: D_NAMES, orient: "vertical", left: 516.7, top: 567, padding: 0, itemWidth: 10, itemHeight: 2.5, itemGap: 1.3,
      selectedMode: false, icon: "rect",
      textStyle: { fontSize: 9.4, lineHeight: 11, color: "#222", fontFamily: FONT, padding: [0, 0, 0, -1] },
    },
  };
}

export default function App() {
  const ref = useRef<HTMLDivElement>(null);
  useEffect(() => {
    document.body.style.margin = "0";
    const chart = echarts.init(ref.current!, null, { renderer: "svg" });
    chart.setOption(buildOption() as any);
    return () => chart.dispose();
  }, []);
  return <div ref={ref} style={{ width: 617, height: 915 }} />;
}
